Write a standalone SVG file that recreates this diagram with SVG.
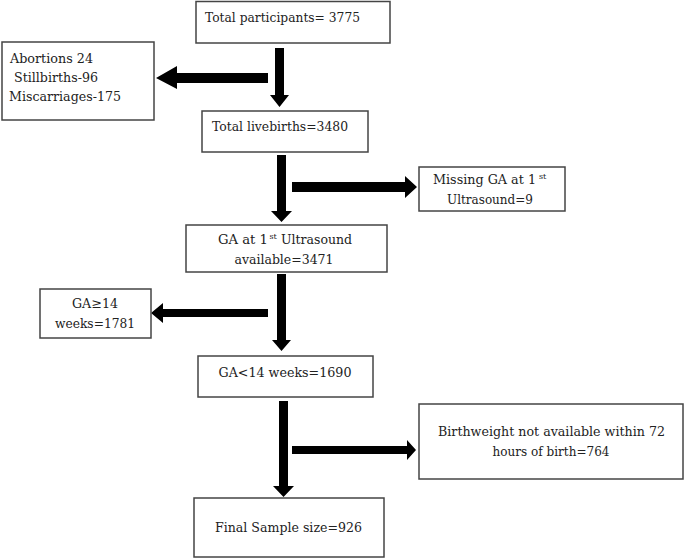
<svg xmlns="http://www.w3.org/2000/svg" width="685" height="559" viewBox="0 0 685 559">
<style>
.box{fill:#fff;stroke:#444;stroke-width:1.5}
.t{font-family:'DejaVu Serif','Liberation Serif',serif;font-size:13.5px;fill:#222}
.c{text-anchor:middle}
.sup{font-size:8px}
.arr{fill:#000}
</style>
<rect width="685" height="559" fill="#fff"/>
<g id="connectors">
<polygon class="arr" points="275,48 284,48 284,95 289,95 279.5,107 270,95 275,95"/>
<polygon class="arr" points="268,73 177,73 177,66 156,78 177,89 177,83 268,83"/>
<polygon class="arr" points="277,155 286,155 286,211 292,211 281.5,222 271,211 277,211"/>
<polygon class="arr" points="292,182 405,182 405,176 417,187 405,198 405,192 292,192"/>
<polygon class="arr" points="277,274 286,274 286,340 291,340 281.5,351 272,340 277,340"/>
<polygon class="arr" points="268,309 163,309 163,303 151,313 163,323 163,317 268,317"/>
<polygon class="arr" points="279,401 288,401 288,486 294,486 283.5,497 273,486 279,486"/>
<polygon class="arr" points="292,446 407,446 407,440 416,450 407,460 407,454 292,454"/>
</g>
<g class="t">
<g id="n1"><rect class="box" x="196" y="1.5" width="194" height="41.5"/><text x="205" y="22" textLength="155" lengthAdjust="spacingAndGlyphs">Total participants= 3775</text></g>
<g id="n2"><rect class="box" x="2" y="42" width="152" height="78"/><text x="10" y="63" textLength="83" lengthAdjust="spacingAndGlyphs">Abortions 24</text><text x="14" y="82" textLength="84" lengthAdjust="spacingAndGlyphs">Stillbirths-96</text><text x="9" y="101" textLength="112" lengthAdjust="spacingAndGlyphs">Miscarriages-175</text></g>
<g id="n3"><rect class="box" x="202" y="111" width="166" height="41"/><text x="212" y="131" textLength="136" lengthAdjust="spacingAndGlyphs">Total livebirths=3480</text></g>
<g id="n4"><rect class="box" x="419" y="167" width="146" height="44"/><text x="433" y="184"><tspan textLength="103" lengthAdjust="spacingAndGlyphs">Missing GA at 1</tspan><tspan class="sup" x="539" y="178.5">st</tspan></text><text class="c" x="490" y="204" textLength="86" lengthAdjust="spacingAndGlyphs">Ultrasound=9</text></g>
<g id="n5"><rect class="box" x="186" y="225" width="201" height="47"/><text x="218" y="244"><tspan textLength="50" lengthAdjust="spacingAndGlyphs">GA at 1</tspan><tspan class="sup" x="269.5" y="238.5">st</tspan><tspan x="281" y="244" textLength="71" lengthAdjust="spacingAndGlyphs">Ultrasound</tspan></text><text class="c" x="284" y="264" textLength="99" lengthAdjust="spacingAndGlyphs">available=3471</text></g>
<g id="n6"><rect class="box" x="40" y="289" width="111" height="49"/><text class="c" x="95" y="308" textLength="46" lengthAdjust="spacingAndGlyphs">GA≥14</text><text class="c" x="95" y="328" textLength="80" lengthAdjust="spacingAndGlyphs">weeks=1781</text></g>
<g id="n7"><rect class="box" x="198" y="356" width="175" height="41"/><text class="c" x="285" y="377" textLength="133" lengthAdjust="spacingAndGlyphs">GA&lt;14 weeks=1690</text></g>
<g id="n8"><rect class="box" x="419" y="404" width="264" height="75"/><text class="c" x="551.5" y="436" textLength="227" lengthAdjust="spacingAndGlyphs">Birthweight not available within 72</text><text class="c" x="551" y="456" textLength="117" lengthAdjust="spacingAndGlyphs">hours of birth=764</text></g>
<g id="n9"><rect class="box" x="194" y="498" width="190" height="59"/><text class="c" x="288.5" y="532" textLength="147" lengthAdjust="spacingAndGlyphs">Final Sample size=926</text></g>
</g>
</svg>
